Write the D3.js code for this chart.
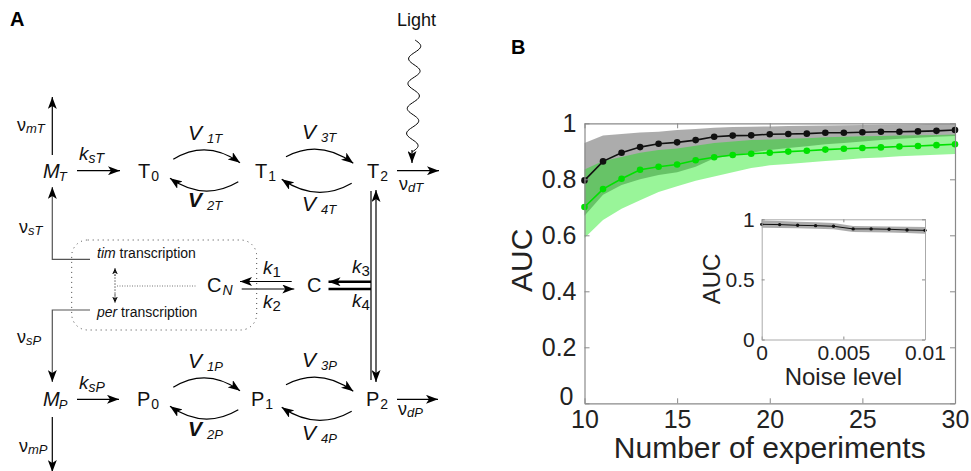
<!DOCTYPE html>
<html>
<head>
<meta charset="utf-8">
<script src="https://cdn.jsdelivr.net/npm/d3@7"></script>
<style>
  body { margin: 0; background: #fff; }
  svg { display: block; font-family: "Liberation Sans", Arial, sans-serif; }
</style>
</head>
<body>
<script>
// ---- panel B data ----
const nExperiments = [10, 11, 12, 13, 14, 15, 16, 17, 18, 19, 20, 21, 22, 23, 24, 25, 26, 27, 28, 29, 30];
const aucBlack     = [0.796, 0.864, 0.895, 0.915, 0.927, 0.932, 0.940, 0.952, 0.956, 0.957, 0.961, 0.962, 0.963, 0.966, 0.966, 0.968, 0.970, 0.970, 0.971, 0.973, 0.976];
const aucBlackHi   = [0.930, 0.956, 0.962, 0.967, 0.970, 0.976, 0.980, 0.984, 0.987, 0.988, 0.989, 0.990, 0.991, 0.992, 0.993, 0.994, 0.995, 0.996, 0.997, 0.998, 0.998];
const aucBlackLo   = [0.670, 0.745, 0.780, 0.800, 0.815, 0.825, 0.845, 0.875, 0.885, 0.895, 0.905, 0.912, 0.918, 0.925, 0.930, 0.935, 0.940, 0.945, 0.948, 0.952, 0.955];
const aucGreen     = [0.701, 0.765, 0.802, 0.834, 0.845, 0.853, 0.868, 0.879, 0.887, 0.891, 0.895, 0.899, 0.902, 0.906, 0.909, 0.912, 0.914, 0.917, 0.919, 0.922, 0.925];
const aucGreenHi   = [0.835, 0.865, 0.880, 0.895, 0.905, 0.910, 0.920, 0.930, 0.935, 0.940, 0.942, 0.945, 0.947, 0.950, 0.952, 0.954, 0.955, 0.956, 0.957, 0.958, 0.960];
const aucGreenLo   = [0.590, 0.655, 0.695, 0.725, 0.755, 0.775, 0.795, 0.810, 0.825, 0.840, 0.850, 0.855, 0.860, 0.865, 0.870, 0.875, 0.878, 0.882, 0.885, 0.888, 0.890];
const xTicks       = [10, 15, 20, 25, 30];
const yTicks       = [0, 0.2, 0.4, 0.6, 0.8, 1];

// inset: AUC vs noise level
const noiseLevels  = [0, 0.0011, 0.0022, 0.0033, 0.0044, 0.0056, 0.0067, 0.0078, 0.0089, 0.01];
const aucNoise     = [0.958, 0.956, 0.950, 0.947, 0.942, 0.920, 0.920, 0.917, 0.911, 0.908];
const aucNoiseHi   = [0.990, 0.985, 0.980, 0.975, 0.970, 0.945, 0.942, 0.940, 0.937, 0.935];
const aucNoiseLo   = [0.930, 0.928, 0.925, 0.922, 0.918, 0.895, 0.893, 0.890, 0.885, 0.880];
const insetXTicks  = [0, 0.005, 0.01];
const insetYTicks  = [0, 0.5, 1];

const svg = d3.select('body').append('svg').attr('width', 971).attr('height', 471);

// =================== panel B ===================
const x = d3.scaleLinear().domain([10, 30]).range([584.5, 955]);
const y = d3.scaleLinear().domain([0, 1]).range([403.3, 123.3]);

const gB = svg.append('g').attr('id', 'panel-b');

gB.append('text').attr('x', 511).attr('y', 54)
  .attr('font-size', 20).attr('font-weight', 'bold').text('B');

const band = (lo, hi, xs, sx, sy) => d3.area()
  .x((d, i) => sx(xs[i]))
  .y0((d, i) => sy(lo[i]))
  .y1((d, i) => sy(hi[i]));

// gray band under, green band on top -> dark green overlap
gB.append('path').datum(aucBlack)
  .attr('d', band(aucBlackLo, aucBlackHi, nExperiments, x, y))
  .attr('fill', 'rgb(90,90,90)').attr('fill-opacity', 0.5);
gB.append('path').datum(aucGreen)
  .attr('d', band(aucGreenLo, aucGreenHi, nExperiments, x, y))
  .attr('fill', 'rgb(0,230,0)').attr('fill-opacity', 0.4);

function series(g, vals, xs, sx, sy, color, w, r) {
  g.append('path').datum(vals)
    .attr('d', d3.line().x((d, i) => sx(xs[i])).y(d => sy(d)))
    .attr('fill', 'none').attr('stroke', color).attr('stroke-width', w);
  g.selectAll(null).data(vals).join('circle')
    .attr('cx', (d, i) => sx(xs[i])).attr('cy', d => sy(d))
    .attr('r', r).attr('fill', color);
}
series(gB, aucGreen, nExperiments, x, y, 'rgb(0,225,0)', 1.6, 3.3);
series(gB, aucBlack, nExperiments, x, y, '#111', 1.6, 3.3);

function styleAxis(g, fs) {
  g.selectAll('.domain').attr('stroke', '#8a8a8a').attr('stroke-width', 1.2);
  g.selectAll('.tick line').attr('stroke', '#8a8a8a');
  g.selectAll('.tick text').attr('font-size', fs).attr('fill', '#222')
    .attr('font-family', '"Liberation Sans", Arial, sans-serif');
  return g;
}
const fmt = d3.format('~g');
styleAxis(gB.append('g').attr('transform', `translate(0,${y(0)})`)
  .call(d3.axisBottom(x).tickValues(xTicks).tickSizeInner(-5).tickSizeOuter(0).tickPadding(7).tickFormat(fmt)), 25);
styleAxis(gB.append('g').attr('transform', `translate(0,${y(1)})`)
  .call(d3.axisTop(x).tickValues(xTicks).tickSizeInner(-5).tickSizeOuter(0).tickFormat('')), 25);
styleAxis(gB.append('g').attr('transform', `translate(${x(10)},0)`)
  .call(d3.axisLeft(y).tickValues(yTicks).tickSizeInner(-5).tickSizeOuter(0).tickPadding(8).tickFormat(fmt)), 25)
  .selectAll('.tick text').filter(d => d === 0).attr('dy', '0.05em').attr('dx', -3);
styleAxis(gB.append('g').attr('transform', `translate(${x(30)},0)`)
  .call(d3.axisRight(y).tickValues(yTicks).tickSizeInner(-5).tickSizeOuter(0).tickFormat('')), 25);

gB.append('text').attr('transform', `translate(532,${(y(0) + y(1)) / 2 - 3}) rotate(-90)`)
  .attr('text-anchor', 'middle').attr('font-size', 30).attr('fill', '#222').text('AUC');
gB.append('text').attr('x', (x(10) + x(30)) / 2).attr('y', 458)
  .attr('text-anchor', 'middle').attr('font-size', 30).attr('fill', '#222').text('Number of experiments');

// inset
const xi = d3.scaleLinear().domain([0, 0.01]).range([761.7, 925]);
const yi = d3.scaleLinear().domain([0, 1]).range([339.5, 219.3]);
const gI = gB.append('g').attr('id', 'inset');
gI.append('rect').attr('x', xi(0)).attr('y', yi(1))
  .attr('width', xi(0.01) - xi(0)).attr('height', yi(0) - yi(1)).attr('fill', '#fff');
gI.append('path').datum(aucNoise)
  .attr('d', band(aucNoiseLo, aucNoiseHi, noiseLevels, xi, yi))
  .attr('fill', 'rgb(90,90,90)').attr('fill-opacity', 0.5);
series(gI, aucNoise, noiseLevels, xi, yi, '#111', 1, 1.7);

styleAxis(gI.append('g').attr('transform', `translate(0,${yi(0)})`)
  .call(d3.axisBottom(xi).tickValues(insetXTicks).tickSizeInner(-3).tickSizeOuter(0).tickPadding(6).tickFormat(fmt)), 21);
styleAxis(gI.append('g').attr('transform', `translate(0,${yi(1)})`)
  .call(d3.axisTop(xi).tickValues(insetXTicks).tickSizeInner(-3).tickSizeOuter(0).tickFormat('')), 21);
styleAxis(gI.append('g').attr('transform', `translate(${xi(0)},0)`)
  .call(d3.axisLeft(yi).tickValues(insetYTicks).tickSizeInner(-3).tickSizeOuter(0).tickPadding(7).tickFormat(fmt)), 21);
styleAxis(gI.append('g').attr('transform', `translate(${xi(0.01)},0)`)
  .call(d3.axisRight(yi).tickValues(insetYTicks).tickSizeInner(-3).tickSizeOuter(0).tickFormat('')), 21);
gI.selectAll('.domain').attr('stroke', '#aaa').attr('stroke-width', 1);

gI.append('text').attr('transform', `translate(720,279) rotate(-90)`)
  .attr('text-anchor', 'middle').attr('font-size', 24).attr('fill', '#222').text('AUC');
gI.append('text').attr('x', (xi(0) + xi(0.01)) / 2).attr('y', 385)
  .attr('text-anchor', 'middle').attr('font-size', 24).attr('fill', '#222').text('Noise level');

// =================== panel A (reaction scheme) ===================
const gA = svg.append('g').attr('id', 'panel-a');
const defs = svg.append('defs');
function marker(id, len, half, notch) {
  defs.append('marker').attr('id', id)
    .attr('viewBox', `${-len} ${-half} ${len} ${half * 2}`)
    .attr('refX', 0).attr('refY', 0)
    .attr('markerUnits', 'userSpaceOnUse')
    .attr('markerWidth', len).attr('markerHeight', half * 2)
    .attr('orient', 'auto-start-reverse')
    .append('path')
    .attr('d', `M0,0L${-len},${-half}L${-len + notch},0L${-len},${half}Z`)
    .attr('fill', '#000');
}
marker('head', 12, 4.5, 3);
marker('head-s', 6, 2.8, 1.5);

function line(pts, o = {}) {
  const p = gA.append('path')
    .attr('d', d3.line()(pts))
    .attr('fill', 'none')
    .attr('stroke', o.color || '#000')
    .attr('stroke-width', o.w || 1.2);
  if (o.dash) p.attr('stroke-dasharray', o.dash);
  if (o.end !== false) p.attr('marker-end', `url(#${o.head || 'head'})`);
  if (o.start) p.attr('marker-start', `url(#${o.head || 'head'})`);
  return p;
}
function curve(p0, c, p1) {
  gA.append('path')
    .attr('d', `M${p0[0]},${p0[1]}Q${c[0]},${c[1]} ${p1[0]},${p1[1]}`)
    .attr('fill', 'none').attr('stroke', '#000').attr('stroke-width', 1.2)
    .attr('marker-end', 'url(#head)');
}
function label(xp, yp, main, sub, o = {}) {
  const t = gA.append('text').attr('x', xp).attr('y', yp).attr('fill', '#111');
  t.append('tspan').text(main)
    .attr('font-size', o.fs || 20)
    .attr('font-style', o.it ? 'italic' : 'normal')
    .attr('font-weight', o.bold ? 'bold' : 'normal');
  if (sub) {
    t.append('tspan').text(sub)
      .attr('dx', o.sdx || 0).attr('dy', o.sdy || 4)
      .attr('font-size', o.sfs || 14)
      .attr('font-style', o.sit ? 'italic' : 'normal');
  }
  return t;
}

gA.append('text').attr('x', 10).attr('y', 26)
  .attr('font-size', 20).attr('font-weight', 'bold').text('A');
gA.append('text').attr('x', 397).attr('y', 26).attr('font-size', 18).attr('fill', '#111').text('Light');

// light wave
const wave = d3.range(0, 1.0001, 0.01).map(t => [415 - 3 * t + 6 * Math.sin(2 * Math.PI * 4.5 * t), 40 + 112 * t]);
gA.append('path').attr('d', d3.line().curve(d3.curveBasis)(wave))
  .attr('fill', 'none').attr('stroke', '#000').attr('stroke-width', 1);
line([[412, 150], [412, 163]]);

// species
const rowT = 177.5, rowP = 406;
[
  [43, rowT, 'M', 'T', true], [138, rowT, 'T', '0'], [255, rowT, 'T', '1'], [367, rowT, 'T', '2'],
  [43, rowP, 'M', 'P', true], [137, rowP, 'P', '0'], [251, rowP, 'P', '1'], [366, rowP, 'P', '2']
].forEach(([lx, ly, m, s, it]) =>
  label(lx, ly, m, s, {it, sit: it, fs: 20, sfs: it ? 13 : 14, sdy: 3, sdx: it ? -1 : 1}));
label(207, 292, 'C', 'N', {fs: 20, sfs: 14, sit: true, sdx: 1, sdy: 3});
label(307, 292, 'C', null, {fs: 20});

// rate labels
const kOpt = {it: true, fs: 19, sfs: 14, sit: true, sdy: 3};
label(79, 160, 'k', 'sT', kOpt);
label(79, 389, 'k', 'sP', kOpt);
const kNum = {it: true, fs: 19, sfs: 15, sdy: 3};
label(263, 274, 'k', '1', kNum);
label(263, 308, 'k', '2', kNum);
label(352, 273, 'k', '3', kNum);
label(352, 307, 'k', '4', kNum);
const nuOpt = {fs: 18, sfs: 13, sit: true, sdy: 2};
label(17, 131, 'ν', 'mT', nuOpt);
label(19, 233, 'ν', 'sT', nuOpt);
label(399, 190, 'ν', 'dT', nuOpt);
label(17, 343, 'ν', 'sP', nuOpt);
label(398, 415, 'ν', 'dP', nuOpt);
label(19, 452, 'ν', 'mP', nuOpt);
const vOpt = {it: true, fs: 21, sfs: 13, sit: true, sdx: 5, sdy: 3};
label(188, 140, 'V', '1T', vOpt);
label(188, 207, 'V', '2T', {...vOpt, bold: true});
label(302, 139, 'V', '3T', vOpt);
label(302, 211, 'V', '4T', vOpt);
label(188, 368, 'V', '1P', vOpt);
label(188, 436, 'V', '2P', {...vOpt, bold: true});
label(302, 367, 'V', '3P', vOpt);
label(302, 440, 'V', '4P', vOpt);

// straight arrows
line([[77, 170.7], [120, 170.7]]);
line([[397, 170.7], [439, 170.7]]);
line([[77, 399.3], [119, 399.3]]);
line([[397, 399.3], [438, 399.3]]);
line([[52.3, 155], [52.3, 97]]);
line([[52.3, 417], [52.3, 472]]);

// phosphorylation cycles
[rowT - 6, rowP - 6.5].forEach(cy => {
  curve([173.3, cy - 12.2], [206.7, cy - 32.5], [240, cy - 8.8]);
  curve([238.3, cy + 10.2], [204, cy + 30.5], [170, cy + 6.8]);
  curve([286, cy - 14.8], [320, cy - 32.8], [353.3, cy - 8.2]);
  curve([351.7, cy + 11.8], [316.7, cy + 31.8], [281.7, cy + 7.8]);
});

// T2 / P2 <-> C
line([[371, 191], [371, 380]], {end: false});
line([[376, 190], [376, 382]], {start: true});
line([[371, 281.7], [328.5, 281.7]], {w: 2.4});
line([[371, 289], [328.5, 289]], {w: 2.4, end: false});
line([[291.7, 281.5], [240, 281.5]]);
line([[241.7, 289], [294.3, 289]]);

// transcription box
gA.append('rect').attr('x', 71.7).attr('y', 240).attr('width', 185).attr('height', 90).attr('rx', 16)
  .attr('fill', 'none').attr('stroke', '#444').attr('stroke-width', 1).attr('stroke-dasharray', '1 4');
line([[90, 259.3], [52.3, 259.3], [52.3, 187]], {color: '#555'});
line([[90, 310], [52.3, 310], [52.3, 382]], {color: '#555'});
line([[115, 276], [115, 268.3]], {head: 'head-s', w: 1, dash: '1.5 1.5', color: '#555'});
line([[115, 294], [115, 302.7]], {head: 'head-s', w: 1, dash: '1.5 1.5', color: '#555'});
line([[115, 268.3], [115, 302.7]], {end: false, w: 1, dash: '1.5 1.5', color: '#555'});
line([[117, 286], [197, 286]], {end: false, w: 1, dash: '1 1.5', color: '#777'});

const tx = gA.append('text').attr('x', 97).attr('y', 258.3).attr('font-size', 14).attr('fill', '#111');
tx.append('tspan').attr('font-style', 'italic').text('tim');
tx.append('tspan').text(' transcription');
const px = gA.append('text').attr('x', 97).attr('y', 317.3).attr('font-size', 14).attr('fill', '#111');
px.append('tspan').attr('font-style', 'italic').text('per');
px.append('tspan').text(' transcription');
</script>
</body>
</html>
